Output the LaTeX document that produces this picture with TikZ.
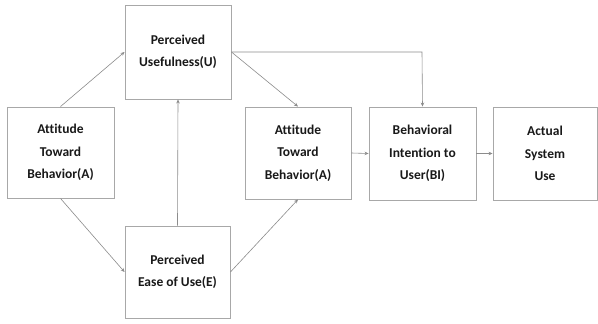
\documentclass[tikz,border=0pt]{standalone}
\usepackage{fontspec}
\setmainfont{Carlito}[Ligatures=NoCommon]
\usetikzlibrary{arrows.meta}
\definecolor{boxline}{HTML}{A8A8A8}
\definecolor{arrline}{HTML}{8C8C8C}
\begin{document}
\begin{tikzpicture}[x=1pt,y=-1pt,
  box/.style={draw=boxline,line width=0.9pt,fill=white,inner sep=0pt,align=center,
    font=\bfseries\fontsize{13.5}{22.5}\selectfont,text=black!90},
  conn/.style={draw=arrline,line width=0.6pt,-{Stealth[length=4pt,width=3.5pt]}}]
\useasboundingbox (0,0) rectangle (598,324);
\fill[white] (0,0) rectangle (598,324);
\node[box,minimum width=107,minimum height=91] (A) at (60.5,152.5) {Attitude\\Toward\\Behavior(A)};
\node[box,minimum width=106,minimum height=94] (U) at (178,52) {Perceived\\Usefulness(U)};
\node[box,minimum width=105,minimum height=92] (E) at (177.5,272) {Perceived\\Ease of Use(E)};
\node[box,minimum width=106,minimum height=92] (A2) at (298,153) {Attitude\\Toward\\Behavior(A)};
\node[box,minimum width=107,minimum height=93] (BI) at (422.5,153.5) {Behavioral\\Intention to\\User(BI)};
\node[box,minimum width=104,minimum height=93] (AU) at (545,153.5) {Actual\\System\\Use};
\coordinate (corner) at (422,52);
\draw[conn] (A.north) -- (U.west);
\draw[conn] (A.south) -- (E.west);
\draw[conn] (E.north) -- (U.south);
\draw[conn] (U.east) -- (A2.north);
\draw[conn] (E.east) -- (A2.south);
\draw[conn] (U.east) -- (corner) -- (BI.north);
\draw[conn] (A2.east) -- (BI.west);
\draw[conn] (BI.east) -- (AU.west);
\end{tikzpicture}
\end{document}
